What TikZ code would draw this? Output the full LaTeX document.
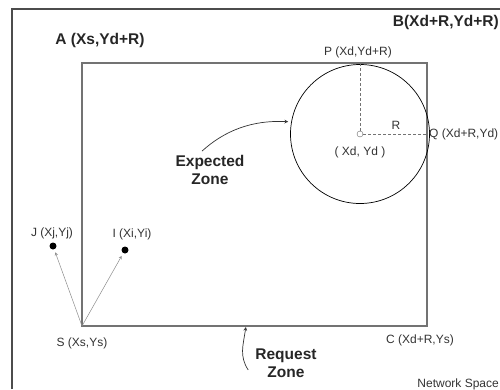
\documentclass[tikz,border=0pt]{standalone}
\usepackage{fontspec}
\setmainfont{Liberation Sans}
\usetikzlibrary{positioning,arrows,calc}

\begin{document}
\begin{tikzpicture}[
    x=1pt, y=-1pt,
    frame/.style={draw=black!70, line width=1.3pt},
    zone/.style={draw=black!55, line width=1.3pt},
    big/.style={font=\fontsize{15.5}{18}\selectfont\bfseries, text=black!85,
                align=center, inner sep=0pt},
    small/.style={font=\fontsize{12}{14}\selectfont, text=black!80, inner sep=0pt},
    dot/.style={circle, fill=black, inner sep=0pt, minimum size=7pt},
    radius line/.style={draw=black!55, line width=0.7pt, dash pattern=on 3pt off 2pt},
    flow/.style={-stealth, line width=0.7pt, black!80, shorten >=3pt},
    link/.style={-stealth, line width=0.5pt, black!45, shorten >=3pt}
]
\useasboundingbox (0,0) rectangle (500,389);

% Network space
\draw[frame] (12,389) -- (12,9) -- (500,9);

% Request zone corners
\coordinate (A) at (82,63);
\coordinate (B) at (427,63);
\coordinate (C) at (427,326);
\coordinate (S) at (82,326);
\draw[zone] (A) rectangle (C);

% Expected zone
\coordinate (D) at (360,134);
\node[circle, draw, line width=0.7pt, minimum size=139pt, inner sep=0pt] (circ) at (D) {};
\coordinate (P) at (D |- A);
\coordinate (Q) at (D -| C);
\node[circle, draw=black!60, fill=white, minimum size=6pt, inner sep=0pt] (centre) at (D) {};
\draw[radius line] (centre) -- (P);
\draw[radius line] (centre) -- (Q);

% Corner and point labels
\node[big] (alabel) at (100,40) {A (Xs,Yd+R)};
\node[big, anchor=east] (blabel) at (499,22) {B(Xd+R,Yd+R)};
\node[small] (plabel) at (358,52) {P (Xd,Yd+R)};
\node[small, anchor=west] (qlabel) at (429,134) {Q (Xd+R,Yd)};
\node[small] (rlabel) at (396,125) {R};
\node[small] (dlabel) at (360,152) {( Xd, Yd )};
\node[small] (slabel) at (82,343) {S (Xs,Ys)};
\node[small] (clabel) at (420,340) {C (Xd+R,Ys)};
\node[small, anchor=east] (netlabel) at (499,384) {Network Space};

% Nodes J and I
\node[dot] (J) at (53,246) {};
\node[dot] (I) at (125,250) {};
\node[small] (jlabel) at (52,233) {J (Xj,Yj)};
\node[small] (ilabel) at (132,234) {I (Xi,Yi)};
\draw[link] (S) -- (J);
\draw[link] (S) -- (I);

% Zone names
\node[big] (expected) at (210,170) {Expected\\Zone};
\node[big] (request) at (286,363) {Request\\Zone};
\coordinate (reqtip) at (246,326);

\draw[flow] ([xshift=-8pt,yshift=4pt]expected.north) .. controls +(22,-20) and +(-40,-2) .. (circ.170);
\draw[flow, shorten >=1pt] ([xshift=-7pt,yshift=-7pt]request.west) .. controls +(-9,-14) and +(-3,20) .. (reqtip);

\end{tikzpicture}
\end{document}
